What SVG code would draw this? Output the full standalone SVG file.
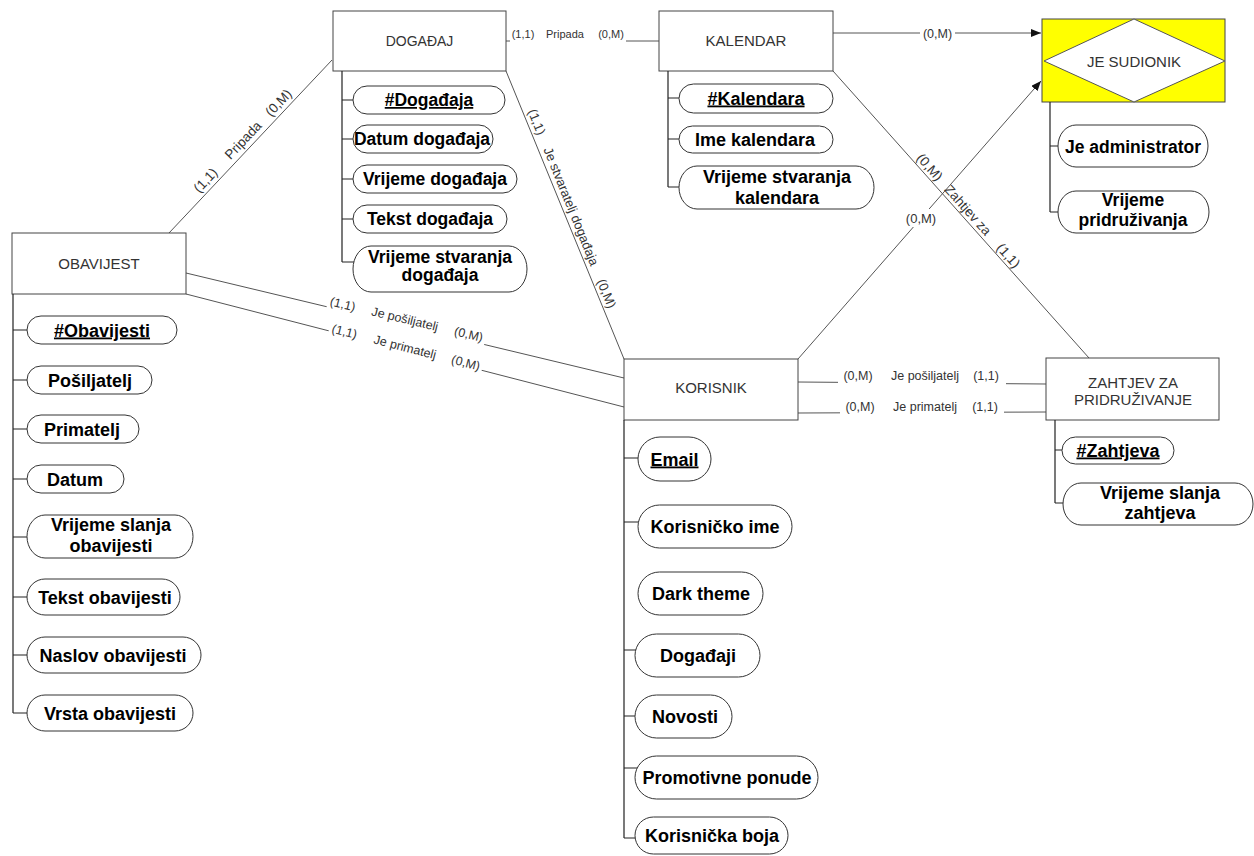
<svg xmlns="http://www.w3.org/2000/svg" width="1254" height="856" viewBox="0 0 1254 856">
<defs>
<marker id="arr" markerUnits="userSpaceOnUse" markerWidth="11" markerHeight="8" refX="10" refY="4" orient="auto"><path d="M0,0 L10,4 L0,8 z" fill="#111"/></marker>
<style>
text{font-family:"Liberation Sans",Arial,sans-serif}
.ent rect.box{fill:#fff;stroke:#444;stroke-width:1}
.ent text.en{font-size:15px;fill:#333;text-anchor:middle}
.pill{fill:#fff;stroke:#333;stroke-width:1}
.at{font-weight:bold;font-size:18px;fill:#000;text-anchor:middle}
.a17 .at{font-size:17.5px}
.key{text-decoration:underline}
.tree{fill:none;stroke:#222;stroke-width:1.2}
.conn{fill:none;stroke:#555;stroke-width:1}
.lbl{font-size:12.5px;fill:#333;text-anchor:middle}
.bg{fill:#fff;stroke:none}
</style>
</defs>
<rect width="1254" height="856" fill="#fff"/>

<g id="connectors">
<path class="conn" d="M169,233 L332,60"/>
<path class="conn" d="M506,41 L659,41"/>
<path class="conn" d="M506,71 L624,359"/>
<path class="conn" d="M186,273 L624,378"/>
<path class="conn" d="M186,294 L624,407"/>
<path class="conn" d="M798,382 L1046,384"/>
<path class="conn" d="M798,413 L1046,412"/>
<path class="conn" d="M833,33 L1041,33" marker-end="url(#arr)"/>
<path class="conn" d="M798,359 L1041,81" marker-end="url(#arr)"/>
<path class="conn" d="M833,71 L1089,358"/>

<g transform="translate(250.2,146.8) rotate(-46.7)">
<text class="lbl" y="-5" style="font-size:13.5px"><tspan x="-55">(1,1)</tspan><tspan x="0">Pripada</tspan><tspan x="51.5">(0,M)</tspan></text>
</g>
<rect class="bg" x="510" y="27" width="116" height="17"/>
<text class="lbl" y="38" style="font-size:11px"><tspan x="523">(1,1)</tspan><tspan x="565">Pripada</tspan><tspan x="611">(0,M)</tspan></text>
<g transform="translate(562.4,210) rotate(67.9)">
<text class="lbl" y="-5" style="font-size:13px"><tspan x="-91.3">(1,1)</tspan><tspan x="0">Je stvaratelj događaja</tspan><tspan x="94">(0,M)</tspan></text>
</g>
<g transform="translate(403.5,325.1) rotate(13.48)">
<rect class="bg" x="-79" y="-12" width="162" height="15"/>
<text class="lbl" y="-2"><tspan x="-64">(1,1)</tspan><tspan x="0">Je pošiljatelj</tspan><tspan x="65.5">(0,M)</tspan></text>
</g>
<g transform="translate(404.2,350.3) rotate(14.47)">
<rect class="bg" x="-78" y="-9" width="158" height="14"/>
<text class="lbl" y="1"><tspan x="-62.6">(1,1)</tspan><tspan x="0">Je primatelj</tspan><tspan x="62.8">(0,M)</tspan></text>
</g>
<rect class="bg" x="838" y="368" width="168" height="18"/>
<text class="lbl" y="380"><tspan x="858">(0,M)</tspan><tspan x="925">Je pošiljatelj</tspan><tspan x="986">(1,1)</tspan></text>
<rect class="bg" x="840" y="399" width="164" height="17"/>
<text class="lbl" y="411"><tspan x="860">(0,M)</tspan><tspan x="925">Je primatelj</tspan><tspan x="985">(1,1)</tspan></text>
<rect class="bg" x="920" y="25" width="35" height="17"/>
<text class="lbl" x="937.5" y="38">(0,M)</text>
<rect class="bg" x="903" y="209" width="36" height="18"/>
<text class="lbl" x="921" y="223" style="font-size:13px">(0,M)</text>
<g transform="translate(961.9,215.5) rotate(48.27)">
<text class="lbl" y="-3.5" style="font-size:13.5px"><tspan x="-57.6">(0,M)</tspan><tspan x="0">Zahtjev za</tspan><tspan x="61">(1,1)</tspan></text>
</g>
</g>

<g id="dogadaj" class="ent a17">
<rect class="box" x="333" y="11" width="173" height="60"/>
<text class="en" x="419.5" y="46" style="font-size:14px">DOGAĐAJ</text>
<path class="tree" d="M342,71 V262 M342,100 H353 M342,139 H353 M342,179 H353 M342,219 H353 M342,262 H354"/>
<rect class="pill" x="353" y="86" width="152" height="28" rx="14"/>
<text class="at key" x="429" y="106">#Događaja</text>
<rect class="pill" x="353" y="125" width="140" height="28" rx="14"/>
<text class="at" x="422" y="145">Datum događaja</text>
<rect class="pill" x="353" y="165" width="164" height="28" rx="14"/>
<text class="at" x="435" y="185">Vrijeme događaja</text>
<rect class="pill" x="353" y="205" width="154" height="28" rx="14"/>
<text class="at" x="430" y="225">Tekst događaja</text>
<rect class="pill" x="353" y="246" width="174" height="46" rx="18" ry="23"/>
<text class="at" x="440" y="262.5">Vrijeme stvaranja</text>
<text class="at" x="440" y="281">događaja</text>
</g>

<g id="kalendar" class="ent">
<rect class="box" x="659" y="11" width="174" height="60"/>
<text class="en" x="746" y="46">KALENDAR</text>
<path class="tree" d="M668,71 V187 M668,98 H679 M668,139 H679 M668,187 H679"/>
<rect class="pill" x="679" y="84" width="154" height="29" rx="14.5"/>
<text class="at key" x="756" y="104.5">#Kalendara</text>
<rect class="pill" x="679" y="126" width="154" height="27" rx="13.5"/>
<text class="at" x="755" y="145.5">Ime kalendara</text>
<rect class="pill" x="679" y="166" width="195" height="43" rx="18" ry="21.5"/>
<text class="at" x="777" y="183">Vrijeme stvaranja</text>
<text class="at" x="777" y="204">kalendara</text>
</g>

<g id="je-sudionik" class="ent a17">
<rect x="1042" y="19" width="183" height="83" fill="#ffff00" stroke="#444" stroke-width="1"/>
<polygon points="1044,61 1134,19 1225,61 1134,102" fill="#fff" stroke="#555" stroke-width="1"/>
<text class="en" x="1134" y="66.5">JE SUDIONIK</text>
<path class="tree" d="M1050,102 V212 M1050,146 H1058 M1050,212 H1059"/>
<rect class="pill" x="1058" y="125" width="150" height="42" rx="18" ry="21"/>
<text class="at" x="1133" y="152.5">Je administrator</text>
<rect class="pill" x="1058" y="191" width="151" height="42" rx="18" ry="21"/>
<text class="at" x="1133" y="206">Vrijeme</text>
<text class="at" x="1133" y="226">pridruživanja</text>
</g>

<g id="obavijest" class="ent">
<rect class="box" x="12" y="233" width="174" height="61"/>
<text class="en" x="99" y="269">OBAVIJEST</text>
<path class="tree" d="M13,294 V713 M13,330 H27 M13,380 H27 M13,429 H27 M13,479 H27 M13,537 H27 M13,597 H27 M13,655 H27 M13,713 H27"/>
<rect class="pill" x="27" y="316" width="150" height="28" rx="14"/>
<text class="at key" x="102" y="336.5">#Obavijesti</text>
<rect class="pill" x="27" y="366" width="125" height="28" rx="14"/>
<text class="at" x="90" y="386.5">Pošiljatelj</text>
<rect class="pill" x="27" y="415" width="112" height="28" rx="14"/>
<text class="at" x="82" y="435.5">Primatelj</text>
<rect class="pill" x="27" y="465" width="97" height="28" rx="14"/>
<text class="at" x="75" y="485.5">Datum</text>
<rect class="pill" x="27" y="515" width="166" height="43" rx="18" ry="21.5"/>
<text class="at" x="111" y="531">Vrijeme slanja</text>
<text class="at" x="111" y="552">obavijesti</text>
<rect class="pill" x="27" y="579" width="153" height="36" rx="18"/>
<text class="at" x="105" y="603.5">Tekst obavijesti</text>
<rect class="pill" x="27" y="637" width="174" height="36" rx="18"/>
<text class="at" x="113" y="661.5">Naslov obavijesti</text>
<rect class="pill" x="27" y="695" width="166" height="36" rx="18"/>
<text class="at" x="110" y="719.5">Vrsta obavijesti</text>
</g>

<g id="korisnik" class="ent">
<rect class="box" x="624" y="359" width="174" height="61"/>
<text class="en" x="711" y="393">KORISNIK</text>
<path class="tree" d="M624,420 V838 M624,458 H638 M624,522 H640 M624,650 H636 M624,716 H635 M624,768 H637 M624,838 H636"/>
<rect class="pill" x="638" y="437" width="73" height="44" rx="22"/>
<text class="at key" x="674.5" y="465.5">Email</text>
<rect class="pill" x="638" y="505" width="154" height="43" rx="21.5"/>
<text class="at" x="715" y="533">Korisničko ime</text>
<rect class="pill" x="638" y="572" width="125" height="43" rx="21.5"/>
<text class="at" x="701" y="600">Dark theme</text>
<rect class="pill" x="635" y="634" width="125" height="43" rx="21.5"/>
<text class="at" x="698" y="662">Događaji</text>
<rect class="pill" x="635" y="695" width="97" height="43" rx="21.5"/>
<text class="at" x="685" y="723">Novosti</text>
<rect class="pill" x="635" y="756" width="183" height="43" rx="21.5"/>
<text class="at" x="727" y="784">Promotivne ponude</text>
<rect class="pill" x="635" y="817" width="153" height="37" rx="18.5"/>
<text class="at" x="712" y="842">Korisnička boja</text>
</g>

<g id="zahtjev" class="ent">
<rect class="box" x="1046" y="358" width="173" height="62"/>
<text class="en" x="1133" y="388">ZAHTJEV ZA</text>
<text class="en" x="1133" y="405">PRIDRUŽIVANJE</text>
<path class="tree" d="M1055,420 V503 M1055,450 H1062 M1055,503 H1064"/>
<rect class="pill" x="1062" y="437" width="112" height="27" rx="13.5"/>
<text class="at key" x="1118" y="456.5">#Zahtjeva</text>
<rect class="pill" x="1063" y="483" width="190" height="42" rx="18" ry="21"/>
<text class="at" x="1160" y="499">Vrijeme slanja</text>
<text class="at" x="1160" y="519">zahtjeva</text>
</g>
</svg>
